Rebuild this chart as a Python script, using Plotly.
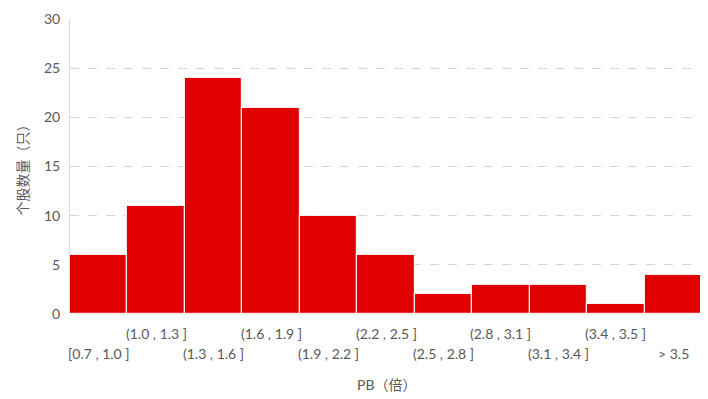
import plotly.graph_objects as go

categories = ["[0.7 , 1.0 ]", "(1.0 , 1.3 ]", "(1.3 , 1.6 ]", "(1.6 , 1.9 ]", "(1.9 , 2.2 ]",
              "(2.2 , 2.5 ]", "(2.5 , 2.8 ]", "(2.8 , 3.1 ]", "(3.1 , 3.4 ]", "(3.4 , 3.5 ]", "> 3.5"]
counts = [6, 11, 24, 21, 10, 6, 2, 3, 3, 1, 4]
y_ticks = [0, 5, 10, 15, 20, 25, 30]

FONT = "Lato, 'Noto Sans CJK SC', sans-serif"
GRAY = "#595959"

W, H = 700, 391
ML, MR, MT, MB = 62, 6, 11, 85

xs = list(range(len(categories)))
fig = go.Figure(go.Bar(
    x=xs, y=counts, width=1,
    marker=dict(color="#E00000", line=dict(color="rgba(255,255,255,0.85)", width=1.2)),
))

annotations = []
for i, lab in enumerate(categories):
    annotations.append(dict(
        x=i, y=-0.066 if i % 2 == 1 else -0.134, xref="x", yref="paper",
        text=lab, showarrow=False, font=dict(family=FONT, size=14, color=GRAY),
        xanchor="center", yanchor="middle"))
annotations.append(dict(x=0.5, y=-0.24, xref="paper", yref="paper", text="PB（倍）",
                        showarrow=False, font=dict(family=FONT, size=14, color=GRAY),
                        xanchor="center", yanchor="middle"))
annotations.append(dict(x=(14 - ML) / (W - ML - MR), y=0.5, xref="paper", yref="paper",
                        text="个股数量（只）", showarrow=False, textangle=-90,
                        font=dict(family=FONT, size=14, color=GRAY),
                        xanchor="center", yanchor="middle"))

fig.update_layout(
    width=W, height=H,
    margin=dict(l=ML, r=MR, t=MT, b=MB, autoexpand=False),
    plot_bgcolor="white", paper_bgcolor="white",
    showlegend=False,
    bargap=0,
    annotations=annotations,
    font=dict(family=FONT, color=GRAY),
    xaxis=dict(range=[-0.5, len(categories) - 0.5], showticklabels=False, showgrid=False,
               zeroline=False, showline=False, ticks="", automargin=False),
    yaxis=dict(range=[0, 30], tickvals=y_ticks, showgrid=True, gridcolor="#d4d4d4",
               griddash="dash", gridwidth=1, zeroline=False, showline=True, linecolor="#d9d9d9",
               linewidth=1, ticks="", ticklabelstandoff=6, automargin=False,
               tickfont=dict(family=FONT, size=14, color=GRAY)),
)

fig.write_html("out.html")
